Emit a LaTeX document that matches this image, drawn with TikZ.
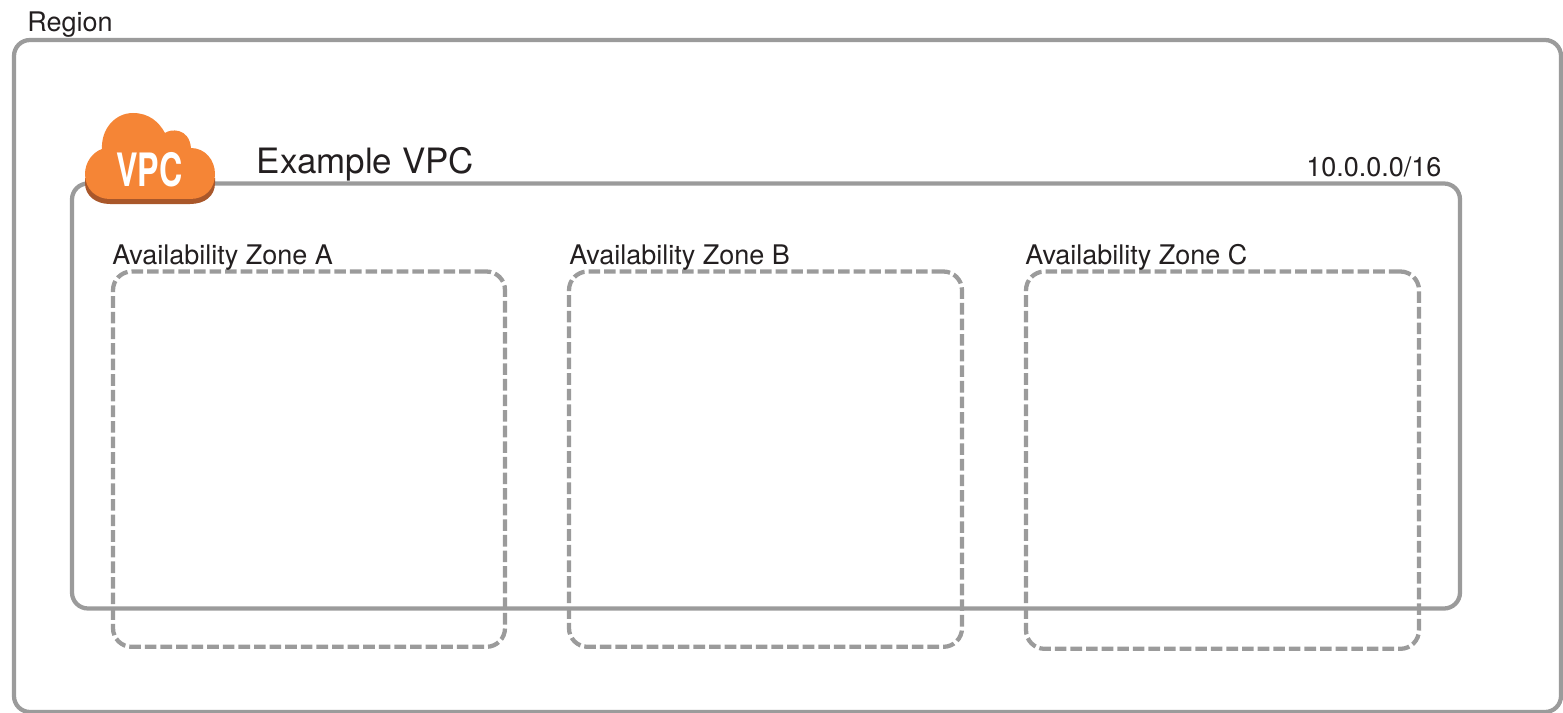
\documentclass[tikz,border=0pt]{standalone}
\usepackage{fontspec}
\setmainfont{TeX Gyre Heros}
\definecolor{boxgray}{HTML}{9B9B9B}
\definecolor{cloudorange}{HTML}{F58536}
\definecolor{clouddark}{HTML}{A9572A}
\definecolor{labelink}{HTML}{231F20}
\tikzset{
  px/.style={x=0.75pt,y=-0.75pt},
  solidbox/.style={draw=boxgray,line width=3.2pt,rounded corners=12pt,inner sep=0pt,outer sep=0pt,anchor=north west},
  zonebox/.style={draw=boxgray,line width=3.2pt,rounded corners=14pt,inner sep=0pt,outer sep=0pt,anchor=north west,dash pattern=on 8.7pt off 3pt},
  lbl/.style={text=labelink,inner sep=0pt,anchor=base west,font=\fontsize{#1}{#1}\selectfont},
}
\begin{document}
\begin{tikzpicture}[px]
\useasboundingbox (0,0) rectangle (1563,713);
\node[solidbox,minimum width=1160.25pt,minimum height=504pt] (region) at (14,40) {};
\node[solidbox,minimum width=1041pt,minimum height=318.75pt] (vpc) at (72,183.5) {};
\node[zonebox,minimum width=294pt,minimum height=281.5pt] (zonea) at (113,271.5) {};
\node[zonebox,minimum width=294.75pt,minimum height=281.5pt] (zoneb) at (569,271.5) {};
\node[zonebox,minimum width=294.75pt,minimum height=283pt] (zonec) at (1026,271.5) {};
\node[lbl=20.25] (regionlabel) at (27,31.5) {Region};
\node[lbl=26.2] (vpclabel) at (256.5,174) {Example VPC};
\node[lbl=20.25] (cidr) at (1306,176) {10.0.0.0/16};
\node[lbl=20.25] (labela) at (112,264) {Availability Zone A};
\node[lbl=20.25] (labelb) at (569,264) {Availability Zone B};
\node[lbl=20.25] (labelc) at (1025,264) {Availability Zone C};
% cloud
\fill[clouddark] (85,178) -- (85,183) .. controls (85,196) and (96,204) .. (110,204) -- (190,204) .. controls (205,204) and (215,196) .. (215,183) -- (215,178) -- cycle;
\fill[cloudorange] (110,199) .. controls (96,199) and (85,189) .. (85,174)
  .. controls (85,162) and (93,152) .. (102,149)
  .. controls (101,129) and (115,113) .. (133,113)
  .. controls (149,113) and (159,122) .. (165,133)
  .. controls (170,129) and (189,127) .. (191,148)
  .. controls (205,148) and (215,160) .. (215,174)
  .. controls (215,189) and (205,199) .. (190,199) -- cycle;
\node[text=white,inner sep=0pt,font=\bfseries\fontsize{34.5}{34.5}\selectfont,xscale=.70] (vpcicon) at (149.5,170) {VPC};
\end{tikzpicture}
\end{document}
